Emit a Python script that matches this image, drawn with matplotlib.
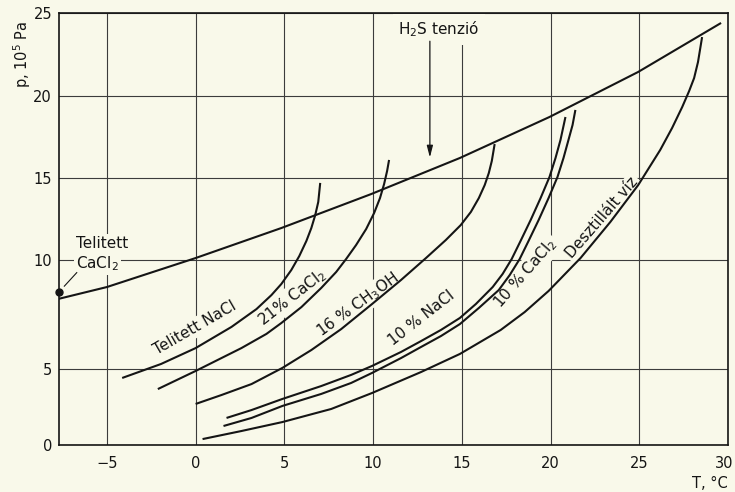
import numpy as np
import matplotlib
matplotlib.use("Agg")
import matplotlib.pyplot as plt
from matplotlib.ticker import NullLocator
from matplotlib.transforms import ScaledTranslation

# ---------------- data (T in °C, p in 10^5 Pa) ----------------
h2s_T = [-7.76, -5.0, 0.0, 4.83, 9.89, 14.89, 19.94, 24.94, 29.61]
h2s_p = [8.21, 8.76, 10.12, 11.95, 14.02, 16.22, 18.72, 21.45, 24.40]

nacl_sat_T = [-4.14, -1.95, 0.0, 2.02, 3.43, 4.27, 4.83, 5.39, 5.84, 6.24, 6.52, 6.74, 6.91, 7.02]
nacl_sat_p = [4.41, 5.23, 5.96, 6.93, 7.75, 8.39, 8.90, 9.54, 10.24, 11.16, 11.95, 12.74, 13.54, 14.70]

cacl2_21_T = [-2.13, 0.0, 2.58, 3.99, 4.83, 5.96, 7.08, 7.92, 8.48, 9.04, 9.61, 10.06, 10.39, 10.62, 10.79, 10.90]
cacl2_21_p = [3.68, 4.87, 5.96, 6.61, 7.11, 7.84, 8.72, 9.45, 10.06, 10.91, 11.89, 12.87, 13.78, 14.63, 15.43, 16.10]

ch3oh_16_T = [0.0, 1.46, 3.15, 4.89, 6.52, 8.20, 9.94, 11.57, 12.98, 14.10, 14.94, 15.51, 15.96, 16.29, 16.52, 16.69, 16.85]
ch3oh_16_p = [2.70, 3.29, 4.01, 5.05, 5.87, 6.83, 7.98, 9.08, 10.12, 11.22, 12.13, 12.93, 13.78, 14.57, 15.30, 16.04, 17.07]

nacl_10_T = [1.74, 3.15, 4.89, 7.08, 8.76, 9.94, 11.57, 12.70, 13.82, 14.89, 15.79, 16.74, 17.30, 17.81,
             18.31, 18.88, 19.44, 19.94, 20.28, 20.56, 20.84]
nacl_10_p = [1.78, 2.30, 3.03, 3.88, 4.61, 5.14, 5.78, 6.28, 6.79, 7.34, 7.98, 8.76, 9.36, 10.06,
             11.16, 12.44, 13.78, 15.06, 16.22, 17.32, 18.72]

cacl2_10_T = [1.57, 3.15, 4.89, 7.08, 8.76, 9.94, 11.57, 12.70, 13.82, 14.89, 15.96, 17.08, 17.70, 18.26,
              18.76, 19.33, 19.89, 20.39, 20.73, 21.01, 21.24, 21.40]
cacl2_10_p = [1.25, 1.78, 2.57, 3.36, 4.08, 4.74, 5.50, 6.01, 6.51, 7.06, 7.80, 8.62, 9.31, 10.06,
              11.16, 12.44, 13.78, 15.06, 16.22, 17.32, 18.23, 19.15]

water_T = [0.39, 2.58, 4.89, 7.64, 9.94, 12.70, 14.89, 17.19, 18.54, 19.89, 21.69, 23.37, 24.94,
           26.18, 26.85, 27.42, 27.81, 28.09, 28.31, 28.54]
water_p = [0.39, 0.92, 1.51, 2.37, 3.42, 4.80, 5.69, 6.79, 7.61, 8.58, 10.12, 12.32, 14.57,
           16.71, 18.05, 19.33, 20.30, 21.08, 22.05, 23.55]

sat_cacl2_point = (-7.7, 8.55)

x_ticks = [-5, 0, 5, 10, 15, 20, 25, 30]
y_ticks = [0, 5, 10, 15, 20, 25]

# ---------------- non-uniform pressure scale of the original ----------------
P_KN = np.array([0.0, 5.0, 10.0, 15.0, 20.0, 25.0])
S_KN = np.array([0.0, 76.0, 185.0, 267.0, 349.0, 432.0])


def fwd(v):
    v = np.asarray(v, dtype=float)
    out = np.interp(v, P_KN, S_KN)
    out = np.where(v < 0, v * 76.0 / 5.0, out)
    out = np.where(v > 25, 432.0 + (v - 25) * 83.0 / 5.0, out)
    return out


def inv(s):
    s = np.asarray(s, dtype=float)
    out = np.interp(s, S_KN, P_KN)
    out = np.where(s < 0, s * 5.0 / 76.0, out)
    out = np.where(s > 432, 25 + (s - 432.0) * 5.0 / 83.0, out)
    return out


BG = "#f9f9ea"
INK = "#151515"
GRID = "#3c3c3c"

plt.rcParams["font.family"] = ["DejaVu Sans"]
plt.rcParams["mathtext.fontset"] = "dejavusans"

fig = plt.figure(figsize=(7.35, 4.92), dpi=100, facecolor=BG)
ax = fig.add_axes([59 / 735, 47 / 492, 669 / 735, 432 / 492])
ax.set_facecolor(BG)
ax.set_yscale("function", functions=(fwd, inv))
ax.set_xlim(-7.7, 30)
ax.set_ylim(0, 25)
ax.set_xticks(x_ticks)
ax.set_yticks(y_ticks)
ax.yaxis.set_minor_locator(NullLocator())
ax.xaxis.set_minor_locator(NullLocator())
ax.grid(True, color=GRID, lw=0.8)
ax.set_axisbelow(True)
ax.tick_params(axis="both", length=0, labelsize=10.5, colors=INK)
ax.tick_params(axis="x", pad=8)
ax.tick_params(axis="y", pad=5)
for sp in ax.spines.values():
    sp.set_color(INK)
    sp.set_linewidth(1.2)

# keep the last x tick label inside the picture
last = ax.get_xticklabels()[-1]
last.set_horizontalalignment("right")
last.set_transform(last.get_transform() + ScaledTranslation(5 / 100, 0, fig.dpi_scale_trans))

lw = 1.5
ax.plot(h2s_T, h2s_p, color=INK, lw=lw, solid_capstyle="butt")
for T, p in [(nacl_sat_T, nacl_sat_p), (cacl2_21_T, cacl2_21_p),
             (ch3oh_16_T, ch3oh_16_p), (nacl_10_T, nacl_10_p),
             (cacl2_10_T, cacl2_10_p), (water_T, water_p)]:
    ax.plot(T, p, color=INK, lw=lw, solid_capstyle="butt", solid_joinstyle="round")

ax.plot([sat_cacl2_point[0]], [sat_cacl2_point[1]], "o", color=INK, ms=5, clip_on=False, zorder=4)
ax.plot([-6.7, -7.4], [9.42, 8.80], color=INK, lw=0.8)

box = dict(facecolor=BG, edgecolor="none", pad=1.5)
fs = 11
txt_kw = dict(color=INK, fontsize=fs, ha="center", va="center",
              rotation_mode="anchor", bbox=box, zorder=1.5)

ax.text(-6.72, 10.73, "Telitett", color=INK, fontsize=fs, ha="left", va="baseline", bbox=box, zorder=1.5)
ax.text(-6.72, 9.63, "CaCl$_2$", color=INK, fontsize=fs, ha="left", va="baseline", bbox=box, zorder=1.5)

ax.text(-0.05, 6.88, "Telitett NaCl", rotation=30, **txt_kw)
ax.text(5.45, 8.30, "21% CaCl$_2$", rotation=38, **txt_kw)
ax.text(9.16, 7.94, "16 % CH$_3$OH", rotation=36, **txt_kw)
ax.text(12.75, 7.34, "10 % NaCl", rotation=38, **txt_kw)
ax.text(18.6, 9.40, "10 % CaCl$_2$", rotation=49, **txt_kw)
ax.text(22.92, 12.56, "Desztillált víz", rotation=49, **txt_kw)

ax.text(13.7, 24.0, "H$_2$S tenzió", color=INK, fontsize=fs, ha="center", va="center",
        bbox=dict(facecolor=BG, edgecolor="none", pad=4), zorder=1.5)
ax.annotate("", xy=(13.2, 16.25), xytext=(13.2, 23.3),
            arrowprops=dict(arrowstyle="-|>,head_length=0.7,head_width=0.18",
                            color=INK, lw=0.9, shrinkA=0, shrinkB=0))

fig.text(22 / 735, 1 - 54 / 492, "p, 10$^5$ Pa", rotation=90, ha="center", va="center",
         color=INK, fontsize=10.5)
fig.text(710 / 735, 1 - 483 / 492, "T, °C", ha="center", va="center", color=INK, fontsize=10.5)

fig.savefig("out.png", dpi=100, facecolor=BG)
